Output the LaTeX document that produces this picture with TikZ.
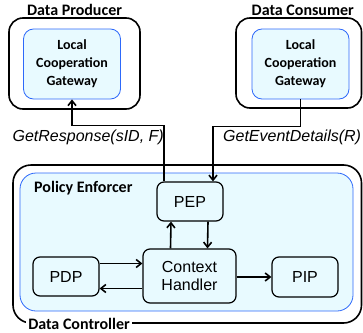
\documentclass[tikz,border=0pt]{standalone}
\usepackage{fontspec}
\setmainfont{Liberation Sans}
\newfontfamily\calibri{Carlito}
\usetikzlibrary{arrows.meta,positioning}
\definecolor{lineblue}{RGB}{45,105,250}
\definecolor{paleblue}{RGB}{232,250,255}

\begin{document}
\begin{tikzpicture}[x=1pt, y=-1pt,
    outerbox/.style={rectangle, draw, line width=1.6pt, rounded corners=14pt, inner sep=0pt},
    bluebox/.style={rectangle, draw=lineblue, fill=paleblue, line width=0.8pt, rounded corners=10pt, inner sep=0pt},
    gateway/.style={bluebox, minimum width=97pt, minimum height=70pt, align=center, font=\calibri\bfseries\fontsize{14}{18}\selectfont},
    comp/.style={rectangle, draw, fill=paleblue, line width=1.2pt, rounded corners=7pt, minimum width=66pt, minimum height=39pt, align=center, font=\fontsize{16}{18}\selectfont},
    title/.style={font=\calibri\bfseries\fontsize{16}{18}\selectfont, inner sep=1pt},
    msg/.style={font=\itshape\fontsize{16}{18}\selectfont, inner sep=0pt},
    arrow/.style={-{Straight Barb[length=5pt,width=8pt]}, line width=1.6pt}
  ]
    \useasboundingbox (0,0) rectangle (363,332);

    % parties
    \node[outerbox, minimum width=131pt, minimum height=91pt] (prodOuter) at (74.5,63.5) {};
    \node[gateway] (prodLCG) at (72,64) {Local\\Cooperation\\Gateway};
    \node[title, above=0pt of prodOuter] (prodTitle) {Data Producer};

    \node[outerbox, minimum width=125.5pt, minimum height=90pt] (consOuter) at (298.75,63) {};
    \node[gateway] (consLCG) at (300.5,64) {Local\\Cooperation\\Gateway};
    \node[title, above=0pt of consOuter, xshift=4pt] (consTitle) {Data Consumer};

    \node[outerbox, rounded corners=18pt, minimum width=348.5pt, minimum height=158pt] (ctrlOuter) at (187.25,244) {};
    \node[bluebox, rounded corners=16pt, minimum width=333pt, minimum height=138pt] (enforcer) at (186.5,242) {};
    \node[title, anchor=west] (enfTitle) at (33,188) {Policy Enforcer};
    \node[title, fill=white, inner sep=2pt] (ctrlTitle) at (79,323.5) {Data Controller};

    % components
    \node[comp] (pep) at (190,201.5) {PEP};
    \node[comp, minimum width=93pt, minimum height=54pt] (ch) at (189.5,276) {Context\\Handler};
    \node[comp] (pdp) at (66,276.5) {PDP};
    \node[comp, minimum height=40pt] (pip) at (305,277) {PIP};

    % messages
    \draw[arrow] ([xshift=-26pt]pep.north) -- ++(0,-56) -| (prodLCG.south);
    \draw[arrow] (consLCG.south) -- ++(0,27) -| ([xshift=23pt]pep.north);
    \node[msg, anchor=east] (respLbl) at (164,137) {GetResponse(sID, F)};
    \node[msg, anchor=west] (evtLbl) at (223,137) {GetEventDetails(R)};

    \draw[arrow] ([xshift=-19pt]ch.north) -- ([xshift=-19pt]pep.south);
    \draw[arrow] ([xshift=18pt]pep.south) -- ([xshift=18pt]ch.north);
    \draw[arrow] ([yshift=13pt]pdp.east) -- ([yshift=13pt]pdp.east -| ch.west);
    \draw[arrow] ([yshift=-12pt]pdp.east -| ch.west) -- ([yshift=-12pt]pdp.east);
    \draw[arrow] (ch.east |- pip.west) -- (pip.west);
  \end{tikzpicture}
\end{document}
